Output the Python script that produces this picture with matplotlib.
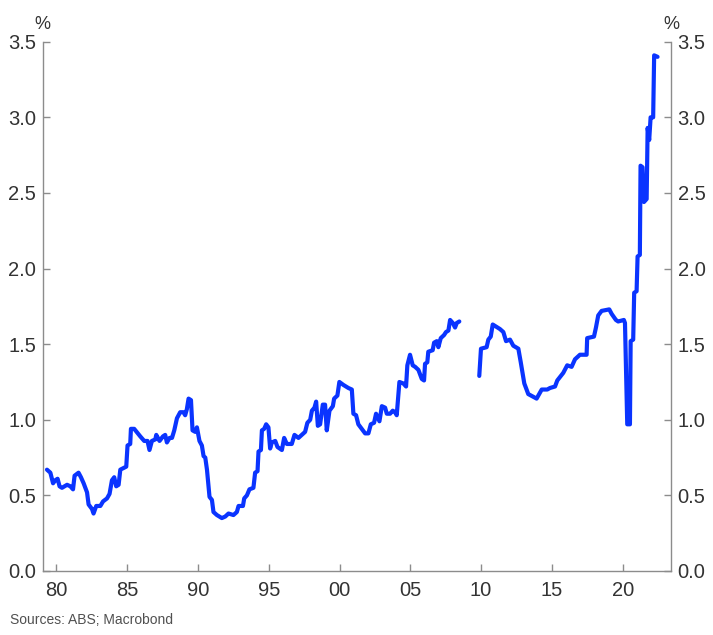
import numpy as np
import matplotlib
matplotlib.use("Agg")
import matplotlib.pyplot as plt

plt.rcParams["font.family"] = ["Liberation Sans", "DejaVu Sans"]

# -------------------------
# DATA
# -------------------------
years_a = [
    1979.34, 1979.58, 1979.77, 1979.93, 1980.09, 1980.23, 1980.40, 1980.76, 1980.99, 1981.18,
    1981.29, 1981.57, 1981.74, 1981.93, 1982.17, 1982.28, 1982.52, 1982.63, 1982.82, 1983.11,
    1983.30, 1983.58, 1983.76, 1983.93, 1984.09, 1984.23, 1984.40, 1984.52, 1984.94, 1985.03,
    1985.22, 1985.27, 1985.50, 1985.93, 1986.21, 1986.44, 1986.58, 1986.75, 1986.99, 1987.06,
    1987.29, 1987.53, 1987.69, 1987.81, 1988.00, 1988.17, 1988.33, 1988.52, 1988.75, 1988.98,
    1989.10, 1989.22, 1989.34, 1989.51, 1989.62, 1989.81, 1989.93, 1990.11, 1990.28, 1990.40,
    1990.52, 1990.64, 1990.82, 1990.99, 1991.10, 1991.34, 1991.69, 1991.93, 1992.16, 1992.51,
    1992.75, 1992.87, 1993.18, 1993.27, 1993.46, 1993.64, 1993.92, 1994.04, 1994.21, 1994.28,
    1994.45, 1994.52, 1994.68, 1994.82, 1994.98, 1995.10, 1995.22, 1995.46, 1995.62, 1995.93,
    1996.09, 1996.28, 1996.63, 1996.82, 1997.10, 1997.34, 1997.57, 1997.73, 1997.93, 1998.05,
    1998.23, 1998.35, 1998.47, 1998.63, 1998.82, 1998.98, 1999.10, 1999.29, 1999.53, 1999.62,
    1999.85, 1999.99, 2000.28, 2000.63, 2000.87, 2000.98, 2001.17, 2001.33, 2001.57, 2001.81,
    2002.04, 2002.21, 2002.44, 2002.58, 2002.82, 2002.99, 2003.22, 2003.34, 2003.57, 2003.76,
    2003.92, 2004.04, 2004.23, 2004.51, 2004.70, 2004.79, 2004.98, 2005.17, 2005.34, 2005.57,
    2005.81, 2005.97, 2006.04, 2006.20, 2006.27, 2006.58, 2006.68, 2006.87, 2006.98, 2007.15,
    2007.38, 2007.52, 2007.69, 2007.81, 2008.00, 2008.16, 2008.28, 2008.46,
]
values_a = [
    0.67, 0.65, 0.58, 0.60, 0.61, 0.56, 0.55, 0.57, 0.56, 0.54,
    0.63, 0.65, 0.62, 0.58, 0.52, 0.44, 0.41, 0.38, 0.43, 0.43,
    0.46, 0.48, 0.51, 0.60, 0.62, 0.56, 0.57, 0.67, 0.69, 0.83,
    0.84, 0.94, 0.94, 0.89, 0.86, 0.86, 0.80, 0.86, 0.87, 0.90,
    0.86, 0.89, 0.90, 0.85, 0.88, 0.88, 0.93, 1.01, 1.05, 1.05,
    1.03, 1.07, 1.14, 1.13, 0.93, 0.92, 0.95, 0.86, 0.83, 0.76,
    0.75, 0.67, 0.49, 0.47, 0.39, 0.37, 0.35, 0.36, 0.38, 0.37,
    0.39, 0.43, 0.43, 0.48, 0.50, 0.54, 0.55, 0.65, 0.66, 0.79,
    0.80, 0.93, 0.94, 0.97, 0.95, 0.81, 0.85, 0.86, 0.82, 0.80,
    0.88, 0.84, 0.84, 0.90, 0.88, 0.90, 0.92, 0.98, 1.00, 1.06,
    1.08, 1.12, 0.96, 0.97, 1.10, 1.10, 0.93, 1.06, 1.09, 1.14,
    1.16, 1.25, 1.23, 1.21, 1.20, 1.04, 1.03, 0.97, 0.94, 0.91,
    0.91, 0.97, 0.98, 1.04, 0.99, 1.09, 1.08, 1.04, 1.04, 1.06,
    1.05, 1.03, 1.25, 1.24, 1.22, 1.36, 1.43, 1.36, 1.35, 1.33,
    1.27, 1.26, 1.37, 1.38, 1.45, 1.46, 1.51, 1.52, 1.48, 1.54,
    1.56, 1.58, 1.59, 1.66, 1.64, 1.61, 1.64, 1.65,
]

years_b = [
    2009.87, 2009.99, 2010.39, 2010.51, 2010.68, 2010.82, 2011.33, 2011.57, 2011.76, 2012.04,
    2012.27, 2012.63, 2012.80, 2013.05, 2013.33, 2013.92, 2014.28, 2014.67, 2014.86, 2015.22,
    2015.38, 2015.80, 2016.08, 2016.39, 2016.63, 2016.98, 2017.45, 2017.49, 2017.97, 2018.11,
    2018.27, 2018.51, 2019.05, 2019.22, 2019.52, 2019.68, 2020.08, 2020.16, 2020.32, 2020.51,
    2020.56, 2020.74, 2020.81, 2020.98, 2021.05, 2021.21, 2021.26, 2021.40, 2021.50, 2021.69,
    2021.76, 2021.87, 2021.97, 2022.15, 2022.22, 2022.46,
]
values_b = [
    1.29, 1.47, 1.48, 1.53, 1.55, 1.63, 1.60, 1.58, 1.52, 1.53,
    1.49, 1.47, 1.38, 1.24, 1.17, 1.14, 1.20, 1.20, 1.21, 1.22,
    1.26, 1.31, 1.36, 1.35, 1.40, 1.43, 1.43, 1.54, 1.55, 1.61,
    1.69, 1.72, 1.73, 1.70, 1.66, 1.65, 1.66, 1.64, 0.97, 0.97,
    1.52, 1.53, 1.84, 1.85, 2.08, 2.09, 2.68, 2.67, 2.44, 2.46,
    2.93, 2.85, 3.00, 3.00, 3.41, 3.40,
]

x_ticks = [1980, 1985, 1990, 1995, 2000, 2005, 2010, 2015, 2020]
x_tick_labels = ["80", "85", "90", "95", "00", "05", "10", "15", "20"]
y_ticks = [0.0, 0.5, 1.0, 1.5, 2.0, 2.5, 3.0, 3.5]

LINE_COLOR = "#0a34ff"
AXIS_COLOR = "#8c8c8c"
TEXT_COLOR = "#333333"

fig = plt.figure(figsize=(7.13, 6.35), dpi=100)
ax = fig.add_axes([0.0607, 0.1008, 0.88, 0.8335])

for xs, ys in [(years_a, values_a), (years_b, values_b)]:
    ax.plot(xs, ys, color=LINE_COLOR, lw=3.0,
            solid_joinstyle="round", solid_capstyle="round")

ax.set_xlim(1979.08, 2023.39)
ax.set_ylim(0, 3.5)
ax.set_xticks(x_ticks)
ax.set_xticklabels(x_tick_labels)
ax.set_yticks(y_ticks)
ax.set_yticklabels([f"{v:.1f}" for v in y_ticks])

for side in ["left", "right", "bottom"]:
    ax.spines[side].set_color(AXIS_COLOR)
    ax.spines[side].set_linewidth(1.0)
ax.spines["top"].set_visible(False)

ax.tick_params(axis="both", direction="in", length=5, width=1.0,
               color=AXIS_COLOR, labelcolor=TEXT_COLOR, labelsize=14.5)
ax.tick_params(axis="y", left=True, right=True, labelleft=True, labelright=True, pad=5)
ax.tick_params(axis="x", pad=7)

fig.text(0.059, 0.962, "%", ha="center", va="center", fontsize=13, color=TEXT_COLOR)
fig.text(0.942, 0.962, "%", ha="center", va="center", fontsize=13, color=TEXT_COLOR)
fig.text(0.014, 0.023, "Sources: ABS; Macrobond", ha="left", va="center",
         fontsize=10, color="#505050")

fig.savefig("out.png", dpi=100)
